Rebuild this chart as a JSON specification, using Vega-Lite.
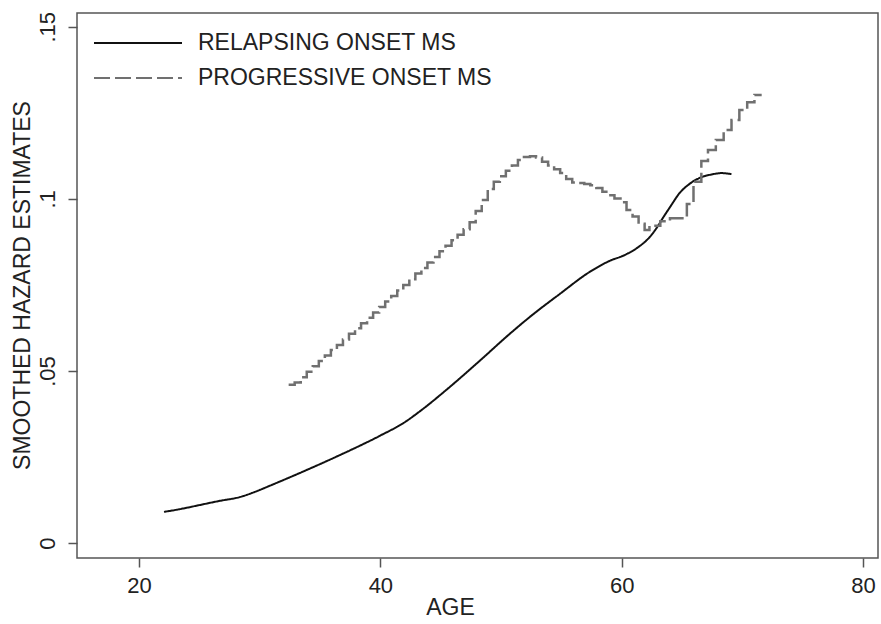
{
  "$schema": "https://vega.github.io/schema/vega-lite/v6.json",
  "width": 801,
  "height": 545,
  "autosize": {"type": "none"},
  "padding": {"left": 77, "top": 13, "right": 3, "bottom": 66},
  "background": "white",
  "config": {
    "view": {"stroke": "#555555", "strokeWidth": 1.5},
    "font": "Liberation Sans",
    "axis": {
      "grid": false,
      "domain": false,
      "tickColor": "#555555",
      "tickWidth": 1.5,
      "tickSize": 9,
      "labelFont": "Liberation Sans",
      "labelFontSize": 22,
      "labelColor": "#222222",
      "titleFont": "Liberation Sans",
      "titleFontSize": 23,
      "titleFontWeight": "normal",
      "titleColor": "#222222"
    },
    "legend": {
      "orient": "none",
      "legendX": 49,
      "legendY": 18,
      "padding": 0,
      "symbolType": "M-4,0H4",
      "symbolSize": 484,
      "symbolStrokeWidth": 2,
      "labelOffset": 48,
      "labelFont": "Liberation Sans",
      "labelFontSize": 23,
      "labelColor": "#222222",
      "labelLimit": 0,
      "rowPadding": 11
    }
  },
  "data": {
    "values": [
      {"age": 22.07, "hazard": 0.0091, "series": "RELAPSING ONSET MS"},
      {"age": 23.4, "hazard": 0.0099, "series": "RELAPSING ONSET MS"},
      {"age": 25.05, "hazard": 0.0111, "series": "RELAPSING ONSET MS"},
      {"age": 26.7, "hazard": 0.0123, "series": "RELAPSING ONSET MS"},
      {"age": 28.36, "hazard": 0.0134, "series": "RELAPSING ONSET MS"},
      {"age": 29.6, "hazard": 0.0149, "series": "RELAPSING ONSET MS"},
      {"age": 30.85, "hazard": 0.0167, "series": "RELAPSING ONSET MS"},
      {"age": 33.33, "hazard": 0.0204, "series": "RELAPSING ONSET MS"},
      {"age": 36.65, "hazard": 0.0256, "series": "RELAPSING ONSET MS"},
      {"age": 39.96, "hazard": 0.0312, "series": "RELAPSING ONSET MS"},
      {"age": 42.0, "hazard": 0.0351, "series": "RELAPSING ONSET MS"},
      {"age": 43.27, "hazard": 0.0383, "series": "RELAPSING ONSET MS"},
      {"age": 45.76, "hazard": 0.0454, "series": "RELAPSING ONSET MS"},
      {"age": 48.24, "hazard": 0.053, "series": "RELAPSING ONSET MS"},
      {"age": 50.72, "hazard": 0.0608, "series": "RELAPSING ONSET MS"},
      {"age": 52.38, "hazard": 0.0657, "series": "RELAPSING ONSET MS"},
      {"age": 54.87, "hazard": 0.0724, "series": "RELAPSING ONSET MS"},
      {"age": 57.35, "hazard": 0.0788, "series": "RELAPSING ONSET MS"},
      {"age": 59.0, "hazard": 0.082, "series": "RELAPSING ONSET MS"},
      {"age": 60.25, "hazard": 0.0837, "series": "RELAPSING ONSET MS"},
      {"age": 61.49, "hazard": 0.0863, "series": "RELAPSING ONSET MS"},
      {"age": 62.32, "hazard": 0.0889, "series": "RELAPSING ONSET MS"},
      {"age": 62.9, "hazard": 0.0916, "series": "RELAPSING ONSET MS"},
      {"age": 63.4, "hazard": 0.0944, "series": "RELAPSING ONSET MS"},
      {"age": 64.0, "hazard": 0.0976, "series": "RELAPSING ONSET MS"},
      {"age": 64.8, "hazard": 0.1017, "series": "RELAPSING ONSET MS"},
      {"age": 65.6, "hazard": 0.1043, "series": "RELAPSING ONSET MS"},
      {"age": 66.46, "hazard": 0.1061, "series": "RELAPSING ONSET MS"},
      {"age": 67.45, "hazard": 0.1071, "series": "RELAPSING ONSET MS"},
      {"age": 68.28, "hazard": 0.1075, "series": "RELAPSING ONSET MS"},
      {"age": 69.1, "hazard": 0.1072, "series": "RELAPSING ONSET MS"},

      {"age": 32.4, "hazard": 0.046, "series": "PROGRESSIVE ONSET MS"},
      {"age": 32.9, "hazard": 0.0467, "series": "PROGRESSIVE ONSET MS"},
      {"age": 33.4, "hazard": 0.0482, "series": "PROGRESSIVE ONSET MS"},
      {"age": 33.9, "hazard": 0.0498, "series": "PROGRESSIVE ONSET MS"},
      {"age": 34.4, "hazard": 0.0514, "series": "PROGRESSIVE ONSET MS"},
      {"age": 34.9, "hazard": 0.0529, "series": "PROGRESSIVE ONSET MS"},
      {"age": 35.4, "hazard": 0.0545, "series": "PROGRESSIVE ONSET MS"},
      {"age": 35.9, "hazard": 0.0561, "series": "PROGRESSIVE ONSET MS"},
      {"age": 36.4, "hazard": 0.0576, "series": "PROGRESSIVE ONSET MS"},
      {"age": 36.9, "hazard": 0.0592, "series": "PROGRESSIVE ONSET MS"},
      {"age": 37.4, "hazard": 0.0608, "series": "PROGRESSIVE ONSET MS"},
      {"age": 37.9, "hazard": 0.0624, "series": "PROGRESSIVE ONSET MS"},
      {"age": 38.4, "hazard": 0.0639, "series": "PROGRESSIVE ONSET MS"},
      {"age": 38.9, "hazard": 0.0655, "series": "PROGRESSIVE ONSET MS"},
      {"age": 39.4, "hazard": 0.067, "series": "PROGRESSIVE ONSET MS"},
      {"age": 39.9, "hazard": 0.0686, "series": "PROGRESSIVE ONSET MS"},
      {"age": 40.4, "hazard": 0.0702, "series": "PROGRESSIVE ONSET MS"},
      {"age": 40.9, "hazard": 0.0718, "series": "PROGRESSIVE ONSET MS"},
      {"age": 41.4, "hazard": 0.0734, "series": "PROGRESSIVE ONSET MS"},
      {"age": 41.9, "hazard": 0.075, "series": "PROGRESSIVE ONSET MS"},
      {"age": 42.4, "hazard": 0.0767, "series": "PROGRESSIVE ONSET MS"},
      {"age": 42.9, "hazard": 0.0783, "series": "PROGRESSIVE ONSET MS"},
      {"age": 43.4, "hazard": 0.0799, "series": "PROGRESSIVE ONSET MS"},
      {"age": 43.9, "hazard": 0.0815, "series": "PROGRESSIVE ONSET MS"},
      {"age": 44.4, "hazard": 0.0831, "series": "PROGRESSIVE ONSET MS"},
      {"age": 44.9, "hazard": 0.0848, "series": "PROGRESSIVE ONSET MS"},
      {"age": 45.4, "hazard": 0.0864, "series": "PROGRESSIVE ONSET MS"},
      {"age": 45.9, "hazard": 0.088, "series": "PROGRESSIVE ONSET MS"},
      {"age": 46.4, "hazard": 0.0896, "series": "PROGRESSIVE ONSET MS"},
      {"age": 46.9, "hazard": 0.0912, "series": "PROGRESSIVE ONSET MS"},
      {"age": 47.4, "hazard": 0.0932, "series": "PROGRESSIVE ONSET MS"},
      {"age": 47.9, "hazard": 0.0965, "series": "PROGRESSIVE ONSET MS"},
      {"age": 48.4, "hazard": 0.0997, "series": "PROGRESSIVE ONSET MS"},
      {"age": 48.9, "hazard": 0.1029, "series": "PROGRESSIVE ONSET MS"},
      {"age": 49.4, "hazard": 0.105, "series": "PROGRESSIVE ONSET MS"},
      {"age": 49.9, "hazard": 0.1066, "series": "PROGRESSIVE ONSET MS"},
      {"age": 50.4, "hazard": 0.1082, "series": "PROGRESSIVE ONSET MS"},
      {"age": 50.9, "hazard": 0.1097, "series": "PROGRESSIVE ONSET MS"},
      {"age": 51.4, "hazard": 0.1113, "series": "PROGRESSIVE ONSET MS"},
      {"age": 51.9, "hazard": 0.1122, "series": "PROGRESSIVE ONSET MS"},
      {"age": 52.4, "hazard": 0.1124, "series": "PROGRESSIVE ONSET MS"},
      {"age": 52.9, "hazard": 0.112, "series": "PROGRESSIVE ONSET MS"},
      {"age": 53.4, "hazard": 0.1108, "series": "PROGRESSIVE ONSET MS"},
      {"age": 53.9, "hazard": 0.1097, "series": "PROGRESSIVE ONSET MS"},
      {"age": 54.4, "hazard": 0.1086, "series": "PROGRESSIVE ONSET MS"},
      {"age": 54.9, "hazard": 0.1075, "series": "PROGRESSIVE ONSET MS"},
      {"age": 55.4, "hazard": 0.1058, "series": "PROGRESSIVE ONSET MS"},
      {"age": 55.9, "hazard": 0.1048, "series": "PROGRESSIVE ONSET MS"},
      {"age": 56.4, "hazard": 0.1046, "series": "PROGRESSIVE ONSET MS"},
      {"age": 56.9, "hazard": 0.1043, "series": "PROGRESSIVE ONSET MS"},
      {"age": 57.4, "hazard": 0.104, "series": "PROGRESSIVE ONSET MS"},
      {"age": 57.9, "hazard": 0.1032, "series": "PROGRESSIVE ONSET MS"},
      {"age": 58.4, "hazard": 0.1021, "series": "PROGRESSIVE ONSET MS"},
      {"age": 58.9, "hazard": 0.1011, "series": "PROGRESSIVE ONSET MS"},
      {"age": 59.4, "hazard": 0.1001, "series": "PROGRESSIVE ONSET MS"},
      {"age": 59.9, "hazard": 0.099, "series": "PROGRESSIVE ONSET MS"},
      {"age": 60.4, "hazard": 0.0968, "series": "PROGRESSIVE ONSET MS"},
      {"age": 60.9, "hazard": 0.0949, "series": "PROGRESSIVE ONSET MS"},
      {"age": 61.4, "hazard": 0.0928, "series": "PROGRESSIVE ONSET MS"},
      {"age": 61.9, "hazard": 0.091, "series": "PROGRESSIVE ONSET MS"},
      {"age": 62.3, "hazard": 0.0922, "series": "PROGRESSIVE ONSET MS"},
      {"age": 63.2, "hazard": 0.0935, "series": "PROGRESSIVE ONSET MS"},
      {"age": 64.0, "hazard": 0.0944, "series": "PROGRESSIVE ONSET MS"},
      {"age": 65.4, "hazard": 0.0985, "series": "PROGRESSIVE ONSET MS"},
      {"age": 65.95, "hazard": 0.105, "series": "PROGRESSIVE ONSET MS"},
      {"age": 66.6, "hazard": 0.111, "series": "PROGRESSIVE ONSET MS"},
      {"age": 67.15, "hazard": 0.1142, "series": "PROGRESSIVE ONSET MS"},
      {"age": 67.8, "hazard": 0.1171, "series": "PROGRESSIVE ONSET MS"},
      {"age": 68.45, "hazard": 0.12, "series": "PROGRESSIVE ONSET MS"},
      {"age": 69.1, "hazard": 0.1229, "series": "PROGRESSIVE ONSET MS"},
      {"age": 69.75, "hazard": 0.1258, "series": "PROGRESSIVE ONSET MS"},
      {"age": 70.4, "hazard": 0.1281, "series": "PROGRESSIVE ONSET MS"},
      {"age": 71.0, "hazard": 0.1302, "series": "PROGRESSIVE ONSET MS"},
      {"age": 71.6, "hazard": 0.1302, "series": "PROGRESSIVE ONSET MS"}
    ]
  },
  "encoding": {
    "x": {
      "field": "age",
      "type": "quantitative",
      "scale": {"domain": [14.86, 81.24], "nice": false, "zero": false},
      "axis": {
        "title": "AGE",
        "values": [20, 40, 60, 80],
        "labelPadding": 8,
        "titleX": 373,
        "titleY": 49,
        "titleAlign": "center",
        "titleBaseline": "middle",
        "titleAnchor": null
      }
    },
    "y": {
      "field": "hazard",
      "type": "quantitative",
      "scale": {"domain": [-0.0043, 0.154], "nice": false, "zero": false},
      "axis": {
        "title": "SMOOTHED HAZARD ESTIMATES",
        "values": [0, 0.05, 0.1, 0.15],
        "labelExpr": "datum.value == 0 ? '0' : replace(format(datum.value, '.2~f'), '0.', '.')",
        "labelAngle": 270,
        "labelAlign": "center",
        "labelBaseline": "alphabetic",
        "labelPadding": 14,
        "titleX": -55,
        "titleY": 272,
        "titleAngle": 270,
        "titleAlign": "center",
        "titleBaseline": "middle"
      }
    },
    "color": {
      "field": "series",
      "type": "nominal",
      "scale": {"domain": ["RELAPSING ONSET MS", "PROGRESSIVE ONSET MS"], "range": ["#111111", "#707070"]},
      "legend": {"title": null}
    },
    "strokeDash": {
      "field": "series",
      "type": "nominal",
      "scale": {"domain": ["RELAPSING ONSET MS", "PROGRESSIVE ONSET MS"], "range": [[1, 0], [16, 5]]},
      "legend": {"title": null}
    }
  },
  "layer": [
    {
      "transform": [{"filter": "datum.series == 'RELAPSING ONSET MS'"}],
      "mark": {"type": "line", "interpolate": "monotone", "strokeWidth": 2}
    },
    {
      "transform": [{"filter": "datum.series == 'PROGRESSIVE ONSET MS'"}],
      "mark": {"type": "line", "interpolate": "step-after", "strokeWidth": 2.5}
    }
  ]
}
